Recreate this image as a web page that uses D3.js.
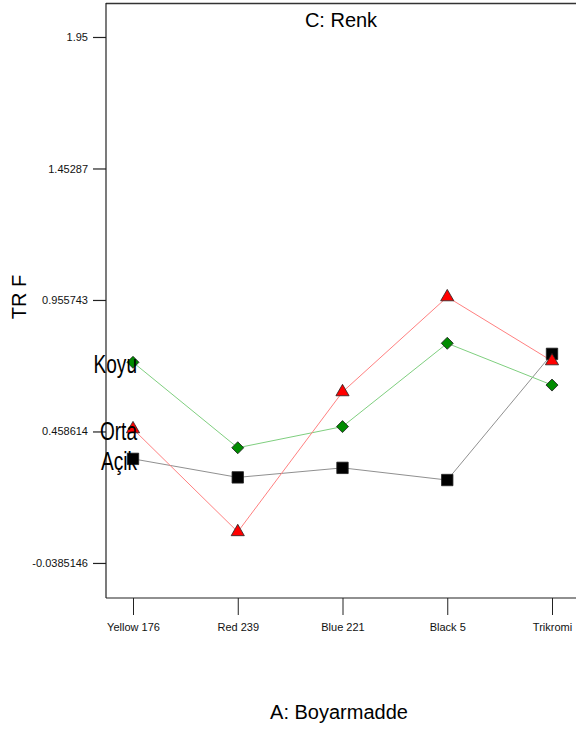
<!DOCTYPE html>
<html>
<head>
<meta charset="utf-8">
<script src="https://cdn.jsdelivr.net/npm/d3@7"></script>
<style>
  html, body { margin: 0; padding: 0; background: #fff; }
  svg { display: block; }
  .tick text { font-family: "Liberation Sans Narrow", "Liberation Sans", Arial, sans-serif; }
  .big { font-family: "Liberation Sans", Arial, sans-serif; font-size: 20px; fill: #000; }
  .lvl { font-family: "Liberation Sans", Arial, sans-serif; font-size: 26.5px; fill: #000; }
</style>
</head>
<body>
<svg id="chart" width="576" height="729"></svg>
<script>
// Factor A levels (dyes)
const categories = ["Yellow 176", "Red 239", "Blue 221", "Black 5", "Trikromi"];
// Y axis tick values
const yTicks = [1.95, 1.45287, 0.955743, 0.458614, -0.0385146];
const yTickLabels = ["1.95", "1.45287", "0.955743", "0.458614", "-0.0385146"];
// TRF for each level of factor C (Renk)
const koyu = [0.720, 0.397, 0.477, 0.792, 0.634];
const orta = [0.468, 0.079, 0.608, 0.967, 0.725];
const acik = [0.355, 0.285, 0.321, 0.275, 0.752];

const svg = d3.select("#chart");
const plotLeft = 106, plotRight = 576, plotTop = 3, plotBottom = 598;

const x = d3.scalePoint().domain(categories).range([133, 552]);
const y = d3.scaleLinear().domain([-0.171, 2.0785]).range([plotBottom, plotTop]);

// frame: top border, left and bottom axes
svg.append("line").attr("x1", plotLeft).attr("x2", plotRight).attr("y1", plotTop + 0.5).attr("y2", plotTop + 0.5)
  .attr("stroke", "#333").attr("stroke-width", 1.5);

const yAxis = d3.axisLeft(y).tickValues(yTicks)
  .tickFormat((d, i) => yTickLabels[i]).tickSize(13).tickPadding(5);
const gy = svg.append("g").attr("transform", `translate(${plotLeft},0)`).call(yAxis);
gy.select(".domain").remove();
gy.append("line").attr("x1", 0).attr("x2", 0).attr("y1", plotTop).attr("y2", plotBottom).attr("stroke", "#222").attr("stroke-width", 1.2);
gy.selectAll(".tick line").attr("stroke", "#222").attr("stroke-width", 1.2);
gy.selectAll(".tick text").attr("font-size", 11).attr("fill", "#111");

const xAxis = d3.axisBottom(x).tickSize(17).tickPadding(8);
const gx = svg.append("g").attr("transform", `translate(0,${plotBottom})`).call(xAxis);
gx.select(".domain").remove();
gx.append("line").attr("x1", plotLeft).attr("x2", plotRight).attr("y1", 0).attr("y2", 0).attr("stroke", "#222").attr("stroke-width", 1.2);
gx.selectAll(".tick line").attr("stroke", "#222");
gx.selectAll(".tick text").attr("font-size", 11).attr("fill", "#111");

const series = [
  { name: "Açik", values: acik, line: "#909090", fill: "#000", shape: d3.symbolSquare, size: 130, rot: 0 },
  { name: "Koyu", values: koyu, line: "#7fcf7f", fill: "#008c00", shape: d3.symbolSquare, size: 72, rot: 45 },
  { name: "Orta", values: orta, line: "#ff8080", fill: "#ff0000", shape: d3.symbolTriangle, size: 75, rot: 0 }
];

const line = d3.line().x((d, i) => x(categories[i])).y(d => y(d));

series.forEach(s => {
  svg.append("path").datum(s.values).attr("d", line)
    .attr("fill", "none").attr("stroke", s.line).attr("stroke-width", 1);
});
series.forEach(s => {
  svg.selectAll(null).data(s.values).enter().append("path")
    .attr("d", d3.symbol().type(s.shape).size(s.size))
    .attr("transform", (d, i) => `translate(${x(categories[i])},${y(d)}) rotate(${s.rot})`)
    .attr("fill", s.fill).attr("stroke", "#222").attr("stroke-width", 0.8);
});

// series labels at the first level (tall condensed lettering)
series.forEach(s => {
  svg.append("text").attr("class", "lvl")
    .attr("transform", `translate(137,${y(s.values[0]) + 11}) scale(0.72,1)`)
    .attr("text-anchor", "end").text(s.name);
});

// titles
svg.append("text").attr("class", "big").attr("x", 341).attr("y", 27)
  .attr("text-anchor", "middle").text("C: Renk");
svg.append("text").attr("class", "big").attr("x", 339).attr("y", 719)
  .attr("text-anchor", "middle").text("A: Boyarmadde");
svg.append("text").attr("class", "big")
  .attr("transform", "translate(26,297) rotate(-90)")
  .attr("text-anchor", "middle").text("TR F");
</script>
</body>
</html>
